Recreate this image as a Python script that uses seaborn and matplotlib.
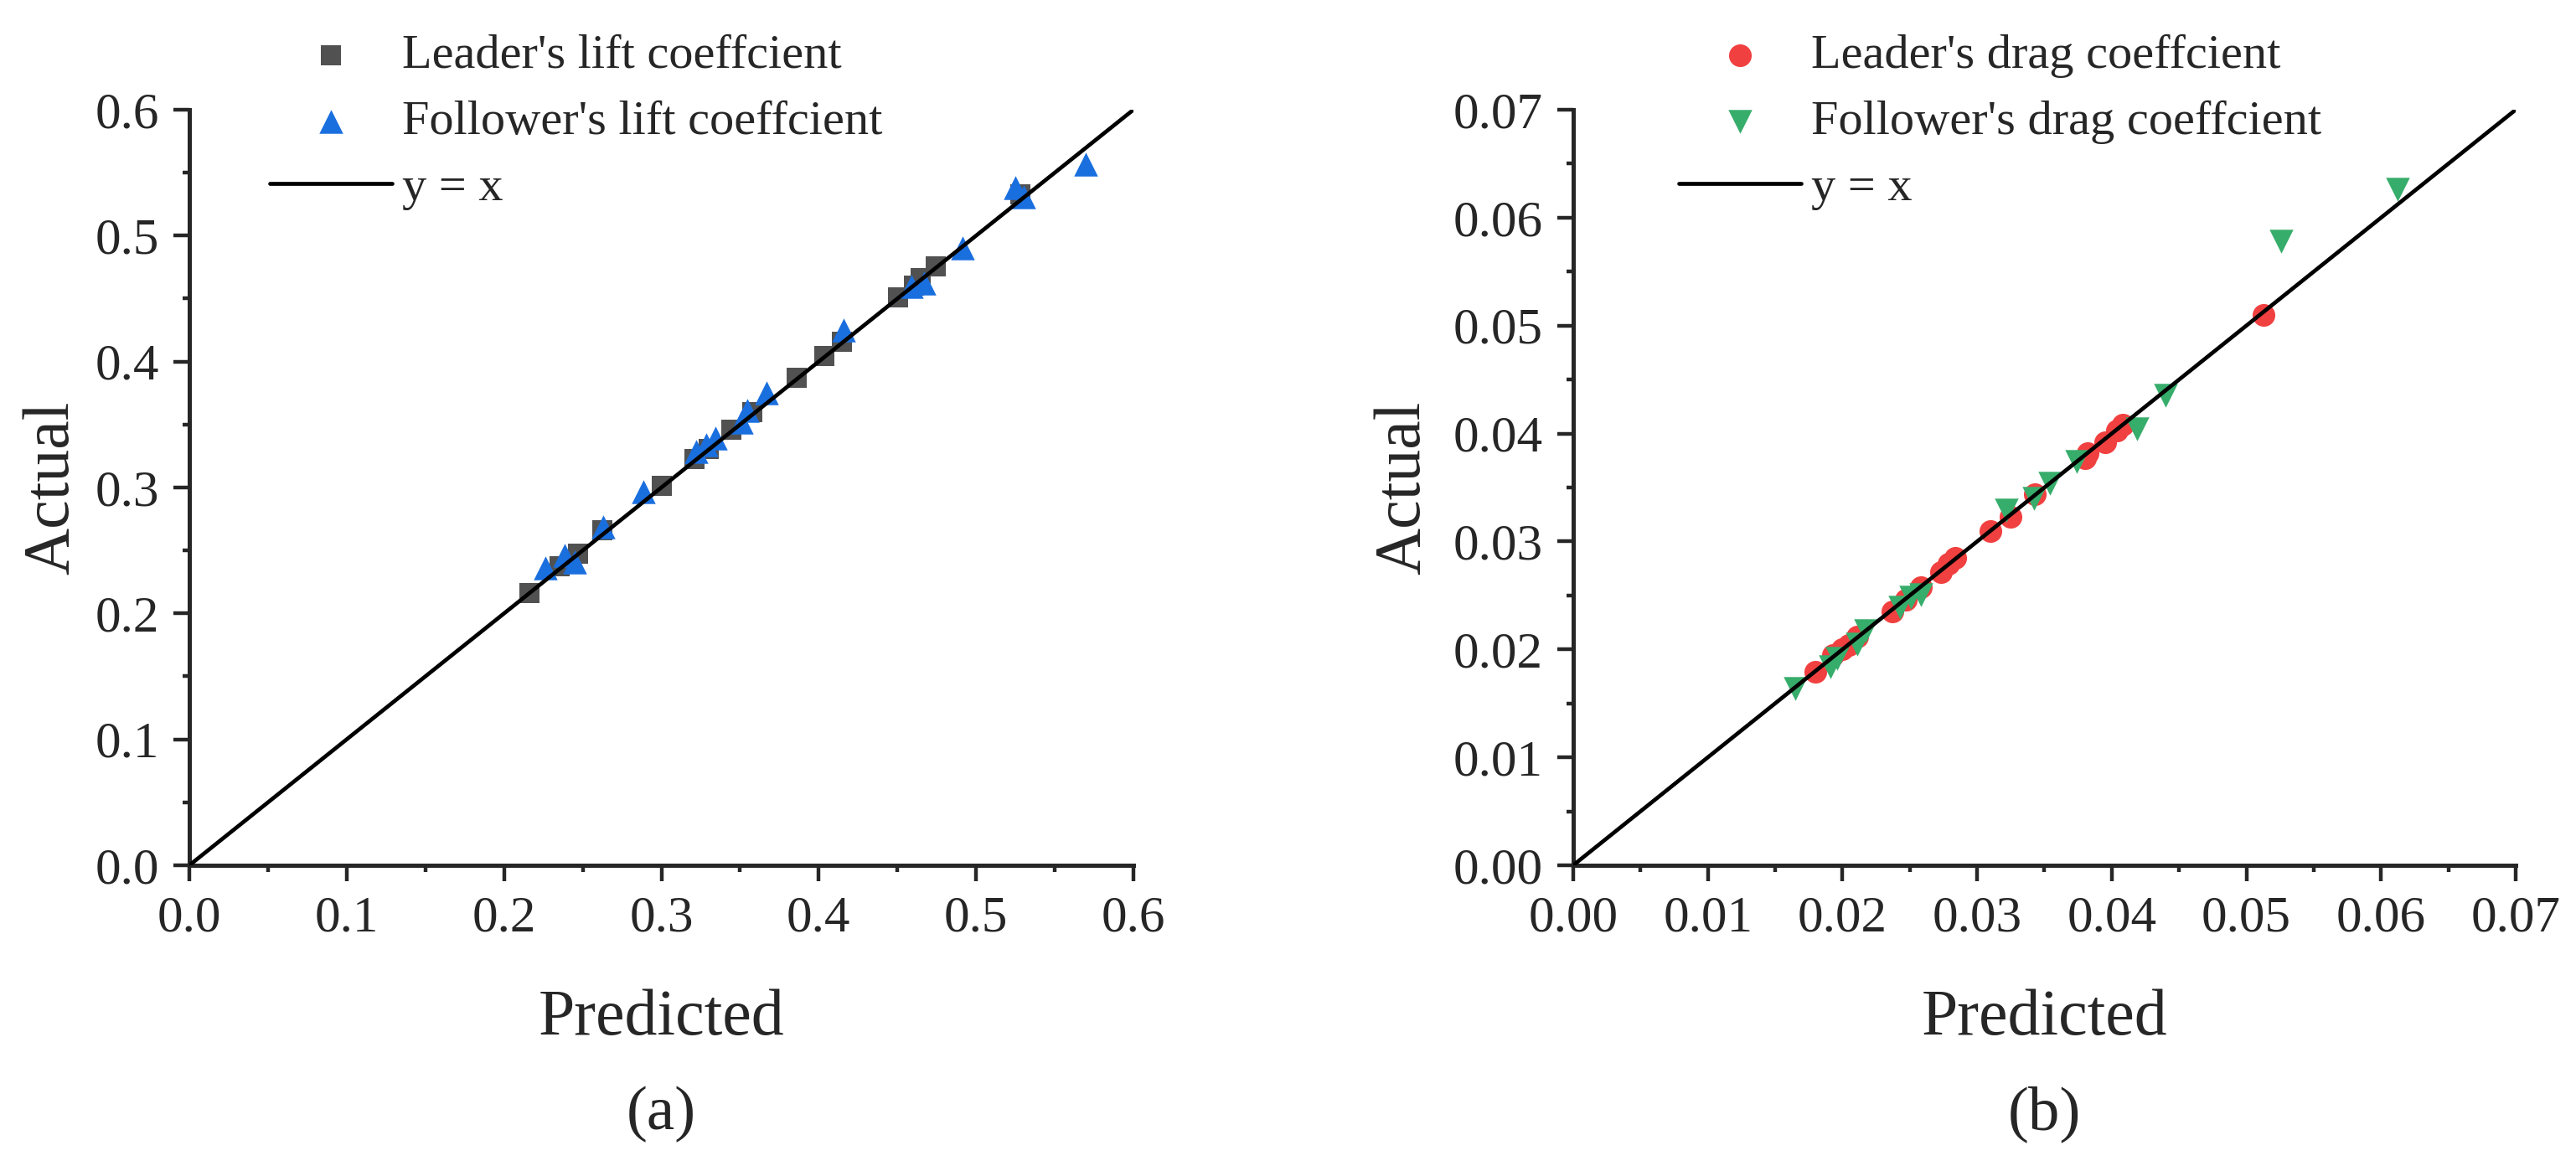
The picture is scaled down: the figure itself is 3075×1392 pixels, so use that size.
import seaborn as sns
import matplotlib.pyplot as plt
from matplotlib.ticker import MultipleLocator, FormatStrFormatter

# lift coefficients (predicted, actual)
leader_lift_pred = [0.2163, 0.2354, 0.2469, 0.2623, 0.3002, 0.3210, 0.3303, 0.3446,
                    0.3577, 0.3862, 0.4033, 0.4147, 0.4505, 0.4607, 0.4648, 0.4742, 0.5279]
leader_lift_act = [0.2160, 0.2375, 0.2477, 0.2663, 0.3013, 0.3223, 0.3308, 0.3460,
                   0.3597, 0.3871, 0.4041, 0.4156, 0.4513, 0.4604, 0.4666, 0.4757, 0.5327]
follower_lift_pred = [0.2265, 0.2387, 0.2448, 0.2632, 0.2884, 0.3222, 0.3283, 0.3345,
                      0.3507, 0.3548, 0.3670, 0.4159, 0.4587, 0.4668, 0.4912, 0.5247,
                      0.5300, 0.5695]
follower_lift_act = [0.2360, 0.2460, 0.2409, 0.2690, 0.2969, 0.3284, 0.3342, 0.3393,
                     0.3518, 0.3613, 0.3749, 0.4251, 0.4598, 0.4625, 0.4903, 0.5378,
                     0.5310, 0.5565]

# drag coefficients (predicted, actual)
leader_drag_pred = [0.0180, 0.0193, 0.0200, 0.0205, 0.0211, 0.0237, 0.0247, 0.0258,
                    0.0273, 0.0279, 0.0284, 0.0310, 0.0325, 0.0343, 0.0380, 0.0382,
                    0.0395, 0.0404, 0.0408, 0.0513]
leader_drag_act = [0.0179, 0.0195, 0.0200, 0.0204, 0.0212, 0.0235, 0.0246, 0.0258,
                   0.0272, 0.0279, 0.0285, 0.0310, 0.0323, 0.0344, 0.0377, 0.0382,
                   0.0392, 0.0403, 0.0408, 0.0510]
follower_drag_pred = [0.0165, 0.0191, 0.0196, 0.0211, 0.0217, 0.0243, 0.0251, 0.0258,
                      0.0322, 0.0342, 0.0354, 0.0374, 0.0419, 0.0440, 0.0526, 0.0612]
follower_drag_act = [0.0164, 0.0184, 0.0192, 0.0205, 0.0217, 0.0239, 0.0248, 0.0251,
                     0.0329, 0.0340, 0.0354, 0.0374, 0.0404, 0.0435, 0.0578, 0.0626]

lift_line = [0.0, 0.6]
drag_line = [0.0, 0.07]

sns.set_style("ticks")
plt.rcParams["font.family"] = ["Liberation Serif", "DejaVu Serif"]

fig = plt.figure(figsize=(15.375, 6.96), dpi=200)
ax1 = fig.add_axes([0.0735, 0.2579, 0.3665, 0.648])
ax2 = fig.add_axes([0.6107, 0.2579, 0.3659, 0.648])

GRAY, RED, BLUE, GREEN = "#515151", "#F14040", "#1A6FDF", "#37AD6B"

sns.scatterplot(x=leader_lift_pred, y=leader_lift_act, ax=ax1, marker="s", s=75,
                color=GRAY, linewidth=0, label="Leader's lift coeffcient", zorder=3)
sns.scatterplot(x=follower_lift_pred, y=follower_lift_act, ax=ax1, marker="^", s=105,
                color=BLUE, linewidth=0, label="Follower's lift coeffcient", zorder=3)
sns.lineplot(x=lift_line, y=lift_line, ax=ax1, color="black", linewidth=1.7,
             label="y = x", zorder=4)

sns.scatterplot(x=leader_drag_pred, y=leader_drag_act, ax=ax2, marker="o", s=95,
                color=RED, linewidth=0, label="Leader's drag coeffcient", zorder=3)
sns.scatterplot(x=follower_drag_pred, y=follower_drag_act, ax=ax2, marker="v", s=105,
                color=GREEN, linewidth=0, label="Follower's drag coeffcient", zorder=3)
sns.lineplot(x=drag_line, y=drag_line, ax=ax2, color="black", linewidth=1.7,
             label="y = x", zorder=4)

setups = [
    (ax1, 0.6, 0.1, 0.05, "%.1f", "(a)", 322, -0.145),
    (ax2, 0.07, 0.01, 0.005, "%.2f", "(b)", 2004, -0.18),
]
for ax, lim, major, minor, fmt, tag, leg_x, ylab_x in setups:
    ax.set_xlim(0, lim)
    ax.set_ylim(0, lim)
    ax.xaxis.set_major_locator(MultipleLocator(major))
    ax.yaxis.set_major_locator(MultipleLocator(major))
    ax.xaxis.set_minor_locator(MultipleLocator(minor))
    ax.yaxis.set_minor_locator(MultipleLocator(minor))
    ax.xaxis.set_major_formatter(FormatStrFormatter(fmt))
    ax.yaxis.set_major_formatter(FormatStrFormatter(fmt))
    sns.despine(ax=ax)
    for sp in ("left", "bottom"):
        ax.spines[sp].set_linewidth(1.8)
    ax.tick_params(which="major", direction="out", length=7, width=1.6,
                   labelsize=22, pad=6)
    ax.tick_params(which="minor", direction="out", length=3, width=1.6)
    ax.set_xlabel("Predicted", fontsize=28, labelpad=20)
    ax.set_ylabel("Actual", fontsize=28, va="center")
    ax.yaxis.set_label_coords(ylab_x, 0.5)
    ax.text(0.5, -0.33, tag, transform=ax.transAxes, ha="center", va="center",
            fontsize=27)
    ax.legend(loc="upper left", bbox_to_anchor=(leg_x / 3075, 1 - 40 / 1392),
              bbox_transform=fig.transFigure, frameon=False, fontsize=21,
              handlelength=2.5, handletextpad=0.2, labelspacing=0.45,
              borderpad=0, borderaxespad=0)

fig.savefig("out.png", dpi=200)
